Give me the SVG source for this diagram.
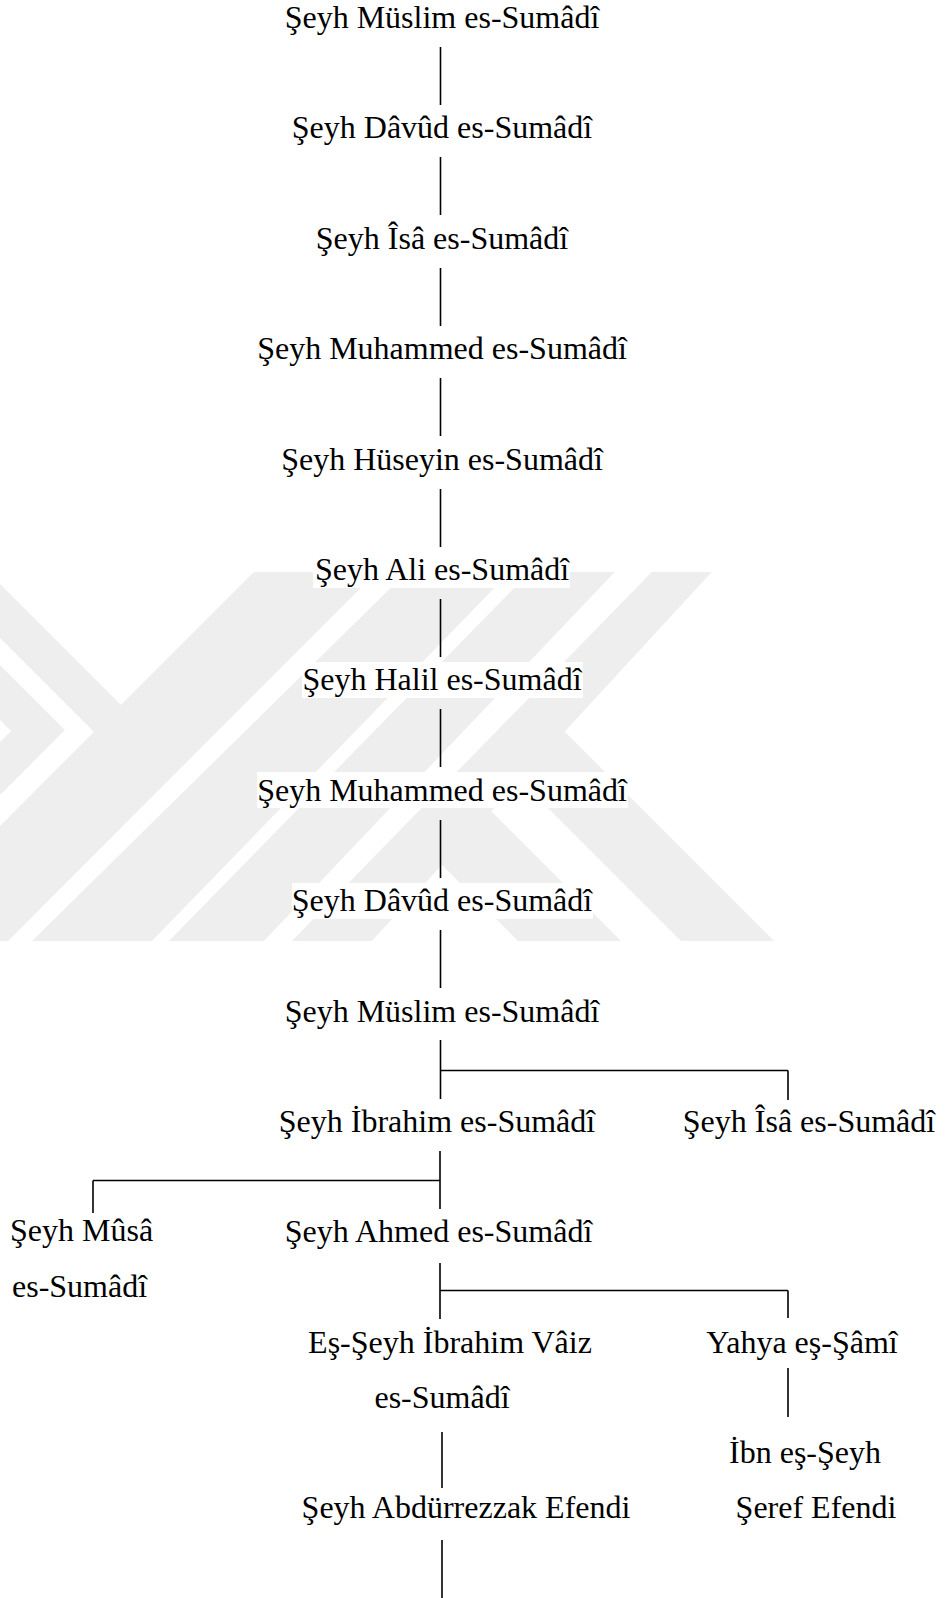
<svg xmlns="http://www.w3.org/2000/svg" width="950" height="1598" viewBox="0 0 950 1598">
<style>
text{font-family:"Liberation Serif","Times New Roman",serif;font-size:32px;fill:#000}
.m{text-anchor:middle}
.c line{stroke:#000;stroke-width:1.6}
.wm{fill:#eeeeee}
.bg{fill:#fff}
</style>
<defs>
<clipPath id="wmclip"><rect x="0" y="571.7" width="950" height="369.3"/></clipPath>
</defs>
<rect width="950" height="1598" fill="#fff"/>
<g id="watermark" clip-path="url(#wmclip)">
<polygon class="wm" points="-50,534 -50,588 110,748 135,719"/>
<polygon class="wm" points="-50,615 65,730 -50,845 -50,792 11,731 -50,670"/>
<polygon class="wm" points="254,571.7 377,571.7 6,943 -117,943"/>
<polygon class="wm" points="407,571.7 510,571.7 150,943 30,943"/>
<polygon class="wm" points="530,571.7 615,571.7 262,943 167,943"/>
<polygon class="wm" points="652,571.7 712,571.7 370,943 290,943"/>
<polygon class="wm" points="540,707 776,943 683,943 500,760"/>
<polygon class="wm" points="470,790 623,943 520,943 425,848"/>
</g>
<g id="connectors" class="c">
<line x1="440.5" y1="47" x2="440.5" y2="105"/>
<line x1="440.5" y1="157" x2="440.5" y2="215"/>
<line x1="440.5" y1="268" x2="440.5" y2="326"/>
<line x1="440.5" y1="378" x2="440.5" y2="436"/>
<line x1="440.5" y1="489" x2="440.5" y2="547"/>
<line x1="440.5" y1="599" x2="440.5" y2="657"/>
<line x1="440.5" y1="709" x2="440.5" y2="767"/>
<line x1="440.5" y1="820" x2="440.5" y2="878"/>
<line x1="440.5" y1="930" x2="440.5" y2="988"/>
<line x1="440.5" y1="1040" x2="440.5" y2="1099"/>
<line x1="440.5" y1="1070.5" x2="788" y2="1070.5"/>
<line x1="788" y1="1070.5" x2="788" y2="1100"/>
<line x1="440" y1="1151" x2="440" y2="1209"/>
<line x1="93" y1="1180.5" x2="440" y2="1180.5"/>
<line x1="93" y1="1180.5" x2="93" y2="1213"/>
<line x1="440" y1="1263" x2="440" y2="1319"/>
<line x1="440" y1="1290.5" x2="788" y2="1290.5"/>
<line x1="788" y1="1290.5" x2="788" y2="1318"/>
<line x1="788" y1="1368" x2="788" y2="1417"/>
<line x1="442" y1="1432" x2="442" y2="1488"/>
<line x1="442" y1="1540" x2="442" y2="1598"/>
</g>
<g id="n1"><text class="m" x="442" y="28">Şeyh Müslim es-Sumâdî</text></g>
<g id="n2"><text class="m" x="442" y="138.4">Şeyh Dâvûd es-Sumâdî</text></g>
<g id="n3"><text class="m" x="442" y="248.8">Şeyh Îsâ es-Sumâdî</text></g>
<g id="n4"><text class="m" x="442" y="359.2">Şeyh Muhammed es-Sumâdî</text></g>
<g id="n5"><text class="m" x="442" y="469.6">Şeyh Hüseyin es-Sumâdî</text></g>
<g id="n6"><rect class="bg" x="313" y="552" width="257" height="36"/><text class="m" x="442" y="580">Şeyh Ali es-Sumâdî</text></g>
<g id="n7"><rect class="bg" x="302" y="662" width="281" height="36"/><text class="m" x="442" y="690.4">Şeyh Halil es-Sumâdî</text></g>
<g id="n8"><rect class="bg" x="257" y="772" width="371" height="36"/><text class="m" x="442" y="800.8">Şeyh Muhammed es-Sumâdî</text></g>
<g id="n9"><rect class="bg" x="292" y="883" width="301" height="36"/><text class="m" x="442" y="911.2">Şeyh Dâvûd es-Sumâdî</text></g>
<g id="n10"><text class="m" x="442" y="1021.6">Şeyh Müslim es-Sumâdî</text></g>
<g id="n11"><text class="m" x="437" y="1132">Şeyh İbrahim es-Sumâdî</text></g>
<g id="n12"><text class="m" x="809" y="1132">Şeyh Îsâ es-Sumâdî</text></g>
<g id="n13"><text x="10" y="1241">Şeyh Mûsâ</text><text x="12" y="1297">es-Sumâdî</text></g>
<g id="n14"><text class="m" x="438.5" y="1242">Şeyh Ahmed es-Sumâdî</text></g>
<g id="n15"><text class="m" x="450" y="1353">Eş-Şeyh İbrahim Vâiz</text><text class="m" x="442" y="1408">es-Sumâdî</text></g>
<g id="n16"><text class="m" x="802" y="1353">Yahya eş-Şâmî</text></g>
<g id="n17"><text class="m" x="805" y="1463">İbn eş-Şeyh</text><text class="m" x="816" y="1518">Şeref Efendi</text></g>
<g id="n18"><text class="m" x="466" y="1518">Şeyh Abdürrezzak Efendi</text></g>
</svg>
